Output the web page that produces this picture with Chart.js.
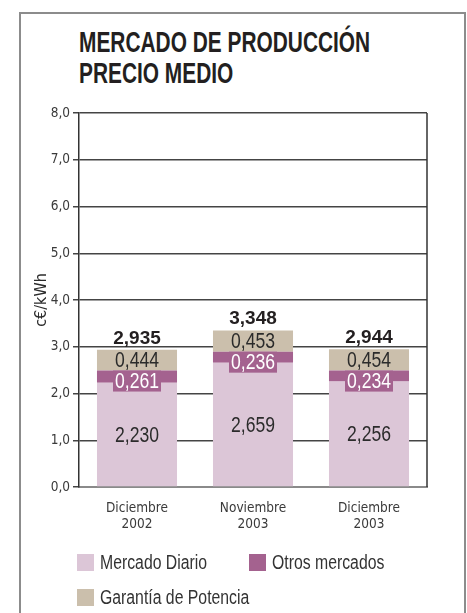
<!DOCTYPE html>
<html lang="es">
<head>
<meta charset="utf-8">
<script src="https://cdn.jsdelivr.net/npm/chart.js@4.4.1/dist/chart.umd.min.js"></script>
<style>
    body { margin: 0; background: #fff; }
    #marco {
        position: absolute; left: 19px; top: 12px; width: 443px; height: 640px;
        border: 2px solid #8c8c8c; border-bottom: none;
    }
    #titulo {
        position: absolute; left: 79px; top: 27px;
        font: bold 29px "Liberation Sans", Arial, sans-serif; line-height: 31px;
        color: #231f20; transform: scaleX(0.72); transform-origin: 0 0; white-space: nowrap;
    }
    #zona { position: absolute; left: 0; top: 0; width: 467px; height: 613px; }
    #leyenda {
        position: absolute; left: 77px; top: 553px; width: 360px;
        font: 19.5px "Liberation Sans", Arial, sans-serif; color: #333;
    }
    .item { display: inline-flex; align-items: center; height: 17px; margin-bottom: 17px; white-space: nowrap; }
    .item span.caja { width: 17px; height: 17px; margin-right: 6px; }
    .item span.txt { display: inline-block; transform: scaleX(0.81); transform-origin: 0 50%; }
</style>
</head>
<body>
<div id="marco"></div>
<div id="titulo">MERCADO DE PRODUCCIÓN<br>PRECIO MEDIO</div>
<div id="zona"><canvas id="grafico" width="467" height="613"></canvas></div>
<div id="leyenda"></div>
<script>
// datos
const categorias = [['Diciembre', '2002'], ['Noviembre', '2003'], ['Diciembre', '2003']];
const mercadoDiario = [2.230, 2.659, 2.256];
const otrosMercados = [0.261, 0.236, 0.234];
const garantiaPotencia = [0.444, 0.453, 0.454];
const totales = [2.935, 3.348, 2.944];
const nombresSeries = ['Mercado Diario', 'Otros mercados', 'Garantía de Potencia'];
const coloresSeries = ['#dcc6d7', '#a4628f', '#cbbfac'];

const fuenteEstrecha = "'DejaVu Sans Condensed', 'Liberation Sans Narrow', sans-serif";

function formato(v, dec) {
    return v.toFixed(dec).replace('.', ',');
}

// texto estrechado (la fuente condensada original no esta disponible)
function textoEstrecho(ctx, texto, x, y) {
    ctx.save();
    ctx.translate(x, y);
    ctx.scale(0.8, 1);
    ctx.fillText(texto, 0, 0);
    ctx.restore();
}

// etiquetas de valores dentro de las barras y totales encima
const etiquetas = {
    id: 'etiquetas',
    afterDatasetsDraw(chart) {
        const ctx = chart.ctx;
        ctx.save();
        ctx.textAlign = 'center';
        ctx.textBaseline = 'middle';
        ctx.font = "22px 'Liberation Sans', Arial, sans-serif";
        chart.data.datasets.forEach(function(ds, i) {
            const meta = chart.getDatasetMeta(i);
            meta.data.forEach(function(barra, j) {
                const texto = formato(ds.data[j], 3);
                if (i === 1) {
                    ctx.fillStyle = coloresSeries[1];
                    ctx.fillRect(barra.x - 24, barra.y, 48, 21);
                    ctx.fillStyle = '#fff';
                    textoEstrecho(ctx, texto, barra.x, barra.y + 11);
                } else {
                    ctx.fillStyle = '#2b2b2b';
                    textoEstrecho(ctx, texto, barra.x, (barra.y + barra.base) / 2 + 1);
                }
            });
        });
        const arriba = chart.getDatasetMeta(2).data;
        ctx.font = "bold 19px 'Liberation Sans', Arial, sans-serif";
        ctx.fillStyle = '#231f20';
        ctx.textBaseline = 'alphabetic';
        arriba.forEach(function(barra, j) {
            ctx.fillText(formato(totales[j], 3), barra.x, barra.y - 6);
        });
        ctx.restore();
    }
};

// linea derecha del area del grafico
const bordeDerecho = {
    id: 'bordeDerecho',
    afterDraw(chart) {
        const a = chart.chartArea;
        const ctx = chart.ctx;
        ctx.save();
        ctx.strokeStyle = '#333';
        ctx.lineWidth = 1.5;
        ctx.beginPath();
        ctx.moveTo(a.right, a.top);
        ctx.lineTo(a.right, a.bottom);
        ctx.stroke();
        ctx.restore();
    }
};

new Chart(document.getElementById('grafico'), {
    type: 'bar',
    data: {
        labels: categorias,
        datasets: [
            { label: nombresSeries[0], data: mercadoDiario, backgroundColor: coloresSeries[0] },
            { label: nombresSeries[1], data: otrosMercados, backgroundColor: coloresSeries[1] },
            { label: nombresSeries[2], data: garantiaPotencia, backgroundColor: coloresSeries[2] }
        ]
    },
    options: {
        responsive: false,
        animation: false,
        layout: { padding: { left: 32, right: 40, top: 113, bottom: 66 } },
        barPercentage: 0.69,
        categoryPercentage: 1,
        plugins: {
            legend: { display: false },
            tooltip: { enabled: false }
        },
        scales: {
            x: {
                stacked: true,
                grid: { display: false },
                border: { color: '#8a8a8a', width: 2 },
                ticks: {
                    color: '#3a3a3a',
                    padding: 5,
                    font: { family: fuenteEstrecha, size: 13.5, lineHeight: 1.2 }
                },
                afterFit(scale) { scale.height = 60; }
            },
            y: {
                stacked: true,
                min: 0,
                max: 8,
                grid: { color: '#444', lineWidth: 1.5, tickLength: 6 },
                border: { color: '#333', width: 1.5 },
                ticks: {
                    stepSize: 1,
                    color: '#3a3a3a',
                    padding: 3,
                    font: { family: fuenteEstrecha, size: 13.5 },
                    callback: function(v) { return formato(v, 1); }
                },
                title: {
                    display: true,
                    text: 'c€/kWh',
                    color: '#2b2b2b',
                    padding: 0,
                    font: { family: fuenteEstrecha, size: 16 }
                },
                afterFit(scale) { scale.width = 47; }
            }
        }
    },
    plugins: [etiquetas, bordeDerecho]
});

// leyenda en html a partir de las series
const leyenda = document.getElementById('leyenda');
nombresSeries.forEach(function(nombre, i) {
    const item = document.createElement('div');
    item.className = 'item';
    item.style.width = i === 0 ? '172px' : 'auto';
    const caja = document.createElement('span');
    caja.className = 'caja';
    caja.style.background = coloresSeries[i];
    const txt = document.createElement('span');
    txt.className = 'txt';
    txt.textContent = nombre;
    item.appendChild(caja);
    item.appendChild(txt);
    leyenda.appendChild(item);
    if (i === 1) leyenda.appendChild(document.createElement('br'));
});
</script>
</body>
</html>
